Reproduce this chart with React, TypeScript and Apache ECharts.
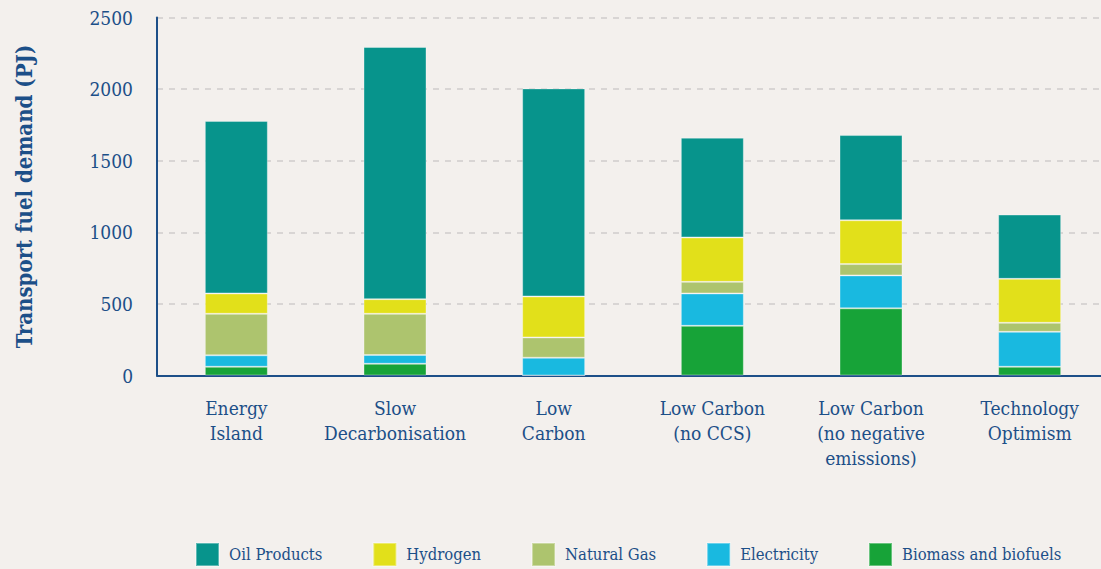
import React, { useEffect, useRef } from "react";
import * as echarts from "echarts";

const categories = [
  "Energy\nIsland",
  "Slow\nDecarbonisation",
  "Low\nCarbon",
  "Low Carbon\n(no CCS)",
  "Low Carbon\n(no negative\nemissions)",
  "Technology\nOptimism",
];
const biomass = [61, 82, 0, 347, 469, 61];
const electricity = [80, 61, 124, 226, 230, 244];
const naturalGas = [290, 288, 142, 81, 79, 63];
const hydrogen = [142, 102, 286, 310, 306, 307];
const oilProducts = [1205, 1761, 1453, 697, 595, 449];
const yTicks = [0, 500, 1000, 1500, 2000, 2500];

const TEXT = "#1c4f88";
const FONT = "'DejaVu Serif Condensed', 'Liberation Serif', serif";

export default function App() {
  const ref = useRef<HTMLDivElement>(null);
  useEffect(() => {
    if (!ref.current) return;
    const chart = echarts.init(ref.current, null, { renderer: "svg" });
    const mk = (name: string, data: number[], color: string) => ({
      name,
      type: "bar",
      stack: "total",
      data,
      barWidth: 63,
      itemStyle: { color, borderColor: "rgba(255,255,255,0.35)", borderWidth: 1 },
    });
    chart.setOption({
      animation: false,
      backgroundColor: "#f3f0ed",
      textStyle: { fontFamily: FONT, color: TEXT },
      grid: { left: 157, top: 17.5, height: 358, width: 952, outerBoundsMode: "none", containLabel: false },
      legend: {
        data: ["Oil Products", "Hydrogen", "Natural Gas", "Electricity", "Biomass and biofuels"],
        left: 190,
        top: 537,
        itemWidth: 23,
        itemHeight: 23,
        itemGap: 50,
        icon: "rect",
        textStyle: { fontFamily: FONT, fontSize: 16.5, color: TEXT, padding: [0, 0, 0, 5] },
      },
      xAxis: {
        type: "category",
        data: categories,
        axisLine: { lineStyle: { color: TEXT, width: 2 } },
        axisTick: { show: false },
        axisLabel: { interval: 0, fontFamily: FONT, fontSize: 19, color: TEXT, lineHeight: 25, margin: 20 },
      },
      yAxis: {
        type: "value",
        min: yTicks[0],
        max: yTicks[yTicks.length - 1],
        interval: 500,
        name: "Transport fuel demand (PJ)",
        nameLocation: "middle",
        nameGap: 122,
        nameTextStyle: { fontFamily: FONT, fontSize: 22, fontWeight: "bold", color: TEXT },
        axisLine: { show: true, lineStyle: { color: TEXT, width: 2 } },
        axisTick: { show: false },
        axisLabel: {
          fontFamily: FONT,
          fontSize: 19,
          color: TEXT,
          margin: 24,
          formatter: (v: number) => String(v),
        },
        splitLine: { lineStyle: { color: "#cfcccb", type: [6, 6], width: 1.5 } },
      },
      series: [
        mk("Biomass and biofuels", biomass, "#17a338"),
        mk("Electricity", electricity, "#19b9e0"),
        mk("Natural Gas", naturalGas, "#adc46e"),
        mk("Hydrogen", hydrogen, "#e2e01a"),
        mk("Oil Products", oilProducts, "#07948c"),
      ],
    });
    return () => chart.dispose();
  }, []);
  return (
    <div
      ref={ref}
      style={{ position: "absolute", left: 0, top: 0, width: 1101, height: 569, overflow: "hidden" }}
    />
  );
}
